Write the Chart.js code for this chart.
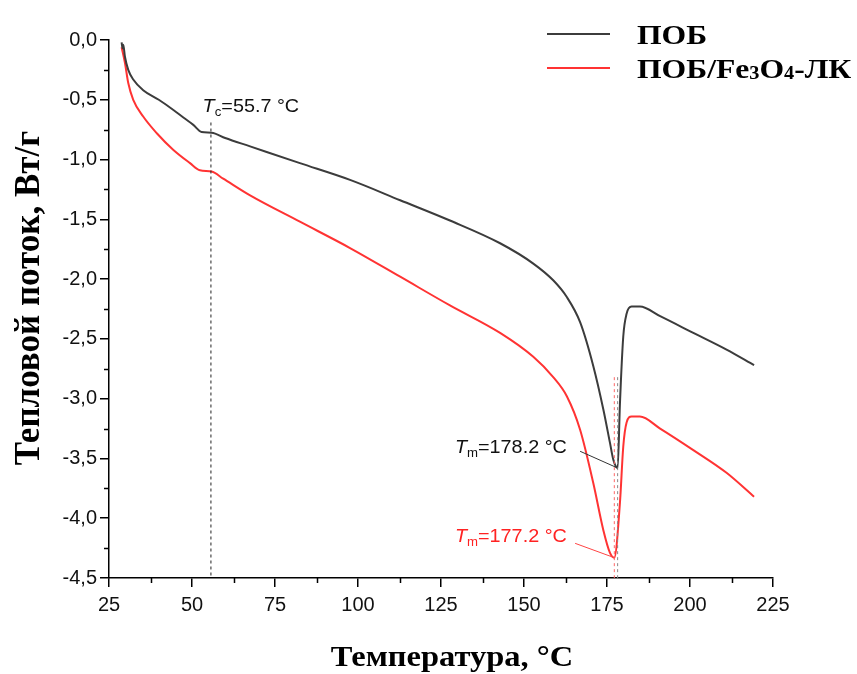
<!DOCTYPE html>
<html>
<head>
<meta charset="utf-8">
<title>ДСК ПОБ</title>
<script src="https://cdn.jsdelivr.net/npm/chart.js@4.4.1/dist/chart.umd.min.js"></script>
<style>
  html, body { margin: 0; padding: 0; background: #ffffff; }
  #wrap { width: 857px; height: 674px; }
</style>
</head>
<body>
<div id="wrap"><canvas id="dsc" width="857" height="674"></canvas></div>
<script>
// Температура, °C — ПОБ
const tempPob = [28.8, 29.1, 29.3, 29.8, 30.8, 32.3, 35.3, 40.0, 44.4, 47.5, 50.4, 52.9, 55.9, 60.0, 67.5,
  82.5, 97.6, 112.7, 127.7, 142.8, 152.8, 158.8, 162.9, 166.9, 170.9, 173.9, 175.9, 176.9, 178.2,
  178.9, 179.9, 180.9, 182.4, 184.9, 191.0, 201.0, 211.0, 219.3];
// Тепловой поток, Вт/г — ПОБ
const flowPob = [-0.02, -0.07, -0.04, -0.14, -0.25, -0.33, -0.42, -0.50, -0.585, -0.65, -0.71, -0.77, -0.775, -0.82, -0.89,
  -1.03, -1.17, -1.34, -1.51, -1.70, -1.87, -2.01, -2.15, -2.36, -2.73, -3.09, -3.37, -3.51, -3.58,
  -3.04, -2.48, -2.29, -2.23, -2.23, -2.31, -2.45, -2.59, -2.72];

// Температура, °C — ПОБ/Fe3O4-ЛК
const tempComp = [28.8, 29.8, 30.8, 32.3, 35.3, 39.4, 44.4, 49.4, 52.4, 55.9, 59.4, 67.5,
  82.5, 97.6, 112.7, 127.7, 142.8, 152.8, 158.8, 162.9, 166.9, 170.9, 173.9, 175.9, 177.2,
  178.9, 179.9, 180.9, 182.4, 184.9, 191.0, 201.0, 211.0, 219.3];
// Тепловой поток, Вт/г — ПОБ/Fe3O4-ЛК
const flowComp = [-0.06, -0.19, -0.36, -0.50, -0.64, -0.78, -0.92, -1.03, -1.09, -1.10, -1.16, -1.30,
  -1.52, -1.74, -1.98, -2.22, -2.45, -2.65, -2.82, -2.98, -3.26, -3.71, -4.10, -4.29, -4.33,
  -3.87, -3.40, -3.20, -3.15, -3.15, -3.25, -3.43, -3.62, -3.82];

// Характерные температуры
const tCryst = 55.7;
const tMeltPob = 178.2;
const tMeltComp = 177.2;
const minPob = -3.58;
const minComp = -4.33;

// Оси
const xTicks = [25, 50, 75, 100, 125, 150, 175, 200, 225];
const yTicks = [0, -0.5, -1.0, -1.5, -2.0, -2.5, -3.0, -3.5, -4.0, -4.5];
const xMinorTicks = [37.5, 62.5, 87.5, 112.5, 137.5, 162.5, 187.5, 212.5];
const yMinorTicks = [-0.25, -0.75, -1.25, -1.75, -2.25, -2.75, -3.25, -3.75, -4.25];

const seriesNames = ['ПОБ', 'ПОБ/Fe₃O₄-ЛК'];
const COLOR_POB = '#3c3c3c';
const COLOR_COMP = '#ff3333';

const SANS = "'Liberation Sans', Arial, sans-serif";
const SERIF = "'Liberation Serif', 'Times New Roman', serif";
// text in this figure is set slightly wide
const TEXT_STRETCH = 1.12;

function toPoints(xs, ys) {
  return xs.map((x, i) => ({ x: x, y: ys[i] }));
}

// draws a run of text pieces with their own fonts and vertical shifts
function drawRich(ctx, x, y, parts, color, stretch) {
  ctx.save();
  ctx.translate(x, y);
  ctx.scale(stretch || 1, 1);
  ctx.fillStyle = color;
  ctx.textAlign = 'left';
  ctx.textBaseline = 'alphabetic';
  let cx = 0;
  for (const p of parts) {
    ctx.font = p.font;
    ctx.fillText(p.text, cx, p.dy || 0);
    cx += ctx.measureText(p.text).width;
  }
  ctx.restore();
}

function tempLabel(sub, value) {
  return [
    { text: 'T', font: 'italic 18px ' + SANS },
    { text: sub, font: '12px ' + SANS, dy: 4 },
    { text: '=' + value.toFixed(1) + ' °C', font: '18px ' + SANS }
  ];
}

const decorPlugin = {
  id: 'decor',
  afterDatasetsDraw(chart) {
    const ctx = chart.ctx;
    const xs = chart.scales.x;
    const ys = chart.scales.y;
    const area = chart.chartArea;

    // minor ticks
    ctx.save();
    ctx.strokeStyle = '#000';
    ctx.lineWidth = 1.5;
    ctx.beginPath();
    for (const v of xMinorTicks) {
      const px = Math.round(xs.getPixelForValue(v)) + 0.5;
      ctx.moveTo(px, area.bottom);
      ctx.lineTo(px, area.bottom + 5);
    }
    for (const v of yMinorTicks) {
      const py = Math.round(ys.getPixelForValue(v)) + 0.5;
      ctx.moveTo(area.left, py);
      ctx.lineTo(area.left - 5, py);
    }
    ctx.stroke();
    ctx.restore();

    // dashed marker lines
    const vline = (t, top, color) => {
      const px = xs.getPixelForValue(t);
      ctx.save();
      ctx.strokeStyle = color;
      ctx.lineWidth = 1;
      ctx.setLineDash([3, 3]);
      ctx.beginPath();
      ctx.moveTo(px, ys.getPixelForValue(top));
      ctx.lineTo(px, area.bottom);
      ctx.stroke();
      ctx.restore();
    };
    vline(tCryst, -0.69, '#222222');
    vline(tMeltComp, -2.82, '#ff6666');
    vline(tMeltPob, -2.82, '#888888');

    // leader lines to the melting minima
    const leader = (t0, v0, t1, v1, color) => {
      ctx.save();
      ctx.strokeStyle = color;
      ctx.lineWidth = 1;
      ctx.beginPath();
      ctx.moveTo(xs.getPixelForValue(t0), ys.getPixelForValue(v0));
      ctx.lineTo(xs.getPixelForValue(t1), ys.getPixelForValue(v1));
      ctx.stroke();
      ctx.restore();
    };
    leader(166.9, -3.44, tMeltPob, minPob, '#333333');
    leader(165.4, -4.21, tMeltComp, minComp, '#ff4444');

    // temperature labels
    drawRich(ctx, xs.getPixelForValue(53.2), ys.getPixelForValue(-0.60), tempLabel('c', tCryst), '#111', 1.1);
    drawRich(ctx, xs.getPixelForValue(129.2), ys.getPixelForValue(-3.453), tempLabel('m', tMeltPob), '#111', 1.1);
    drawRich(ctx, xs.getPixelForValue(129.2), ys.getPixelForValue(-4.195), tempLabel('m', tMeltComp), '#ff2222', 1.1);

    // legend
    const legendRow = (y, color, parts) => {
      ctx.save();
      ctx.strokeStyle = color;
      ctx.lineWidth = 2;
      ctx.beginPath();
      ctx.moveTo(547, y);
      ctx.lineTo(610, y);
      ctx.stroke();
      ctx.restore();
      drawRich(ctx, 637, y + 10, parts, '#000', 1.13);
    };
    const big = 'bold 28px ' + SERIF;
    const small = 'bold 18px ' + SERIF;
    legendRow(34, COLOR_POB, [{ text: 'ПОБ', font: big }]);
    legendRow(68, COLOR_COMP, [
      { text: 'ПОБ/Fe', font: big },
      { text: '3', font: small, dy: 1 },
      { text: 'O', font: big },
      { text: '4', font: small, dy: 1 },
      { text: '-ЛК', font: big }
    ]);

    // axis titles
    ctx.save();
    ctx.fillStyle = '#000';
    ctx.textAlign = 'center';
    ctx.textBaseline = 'middle';
    ctx.translate(452, 659);
    ctx.scale(TEXT_STRETCH, 1);
    ctx.font = 'bold 29px ' + SERIF;
    ctx.fillText('Температура, °C', 0, 0);
    ctx.restore();

    ctx.save();
    ctx.fillStyle = '#000';
    ctx.textAlign = 'center';
    ctx.textBaseline = 'middle';
    ctx.translate(30, 298);
    ctx.rotate(-Math.PI / 2);
    ctx.font = 'bold 35px ' + SERIF;
    ctx.fillText('Тепловой поток, Вт/г', 0, 0);
    ctx.restore();
  }
};

const axisLine = { display: true, color: '#000', width: 1.5 };
const tickGrid = { display: true, drawOnChartArea: false, drawTicks: true, tickLength: 9, color: '#000', lineWidth: 1.5 };

new Chart(document.getElementById('dsc'), {
  type: 'line',
  data: {
    datasets: [
      {
        label: seriesNames[0],
        data: toPoints(tempPob, flowPob),
        borderColor: COLOR_POB,
        borderWidth: 2,
        pointRadius: 0,
        cubicInterpolationMode: 'monotone',
        fill: false
      },
      {
        label: seriesNames[1],
        data: toPoints(tempComp, flowComp),
        borderColor: COLOR_COMP,
        borderWidth: 2,
        pointRadius: 0,
        cubicInterpolationMode: 'monotone',
        fill: false
      }
    ]
  },
  options: {
    responsive: false,
    animation: false,
    devicePixelRatio: 1,
    layout: { padding: { left: 0, top: 40, right: 84, bottom: 0 } },
    plugins: {
      legend: { display: false },
      tooltip: { enabled: false }
    },
    scales: {
      x: {
        type: 'linear',
        min: 25,
        max: 225,
        border: axisLine,
        grid: tickGrid,
        afterBuildTicks: (s) => { s.ticks = xTicks.map(v => ({ value: v })); },
        afterFit: (s) => { s.height = 96; },
        ticks: {
          padding: 6,
          color: '#111',
          font: { family: SANS, size: 20 },
          maxRotation: 0,
          callback: (v) => String(v)
        }
      },
      y: {
        type: 'linear',
        min: -4.5,
        max: 0,
        border: axisLine,
        grid: tickGrid,
        afterBuildTicks: (s) => { s.ticks = yTicks.map(v => ({ value: v })); },
        afterFit: (s) => { s.width = 109; },
        ticks: {
          padding: 3,
          color: '#111',
          font: { family: SANS, size: 20 },
          callback: (v) => (Math.abs(v) < 1e-9 ? 0 : v).toFixed(1).replace('.', ',')
        }
      }
    }
  },
  plugins: [decorPlugin]
});
</script>
</body>
</html>
